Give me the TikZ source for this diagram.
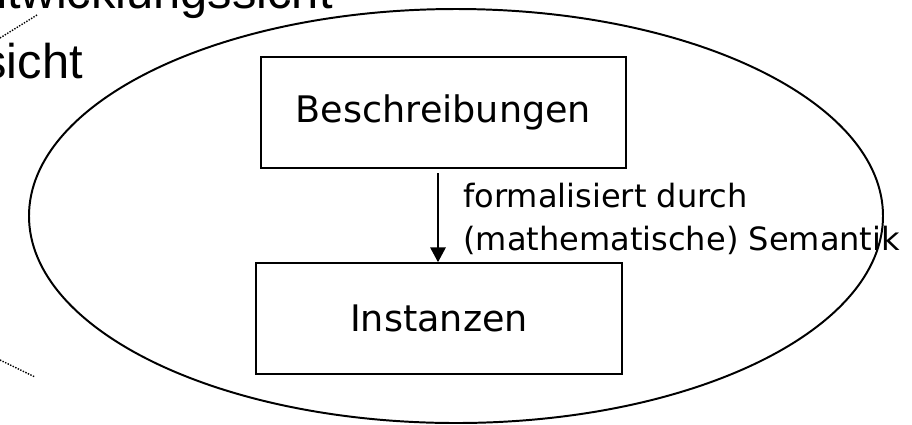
\documentclass[tikz,border=0pt]{standalone}
\usepackage{fontspec}
\setmainfont{DejaVu Sans}
\newfontfamily\arialfont{Liberation Sans}
\usetikzlibrary{arrows.meta}

\tikzset{
	kasten/.style={draw, line width=1.4pt, minimum width=260pt, minimum height=78.7pt, inner sep=0pt, font=\fontsize{26}{30}\selectfont},
	sicht/.style={anchor=base east, inner sep=0pt, font=\arialfont\fontsize{34.7}{40}\selectfont},
	pfeil/.style={line width=1pt, -{Triangle[length=10.5pt, width=11pt]}},
	verweis/.style={line width=1pt, densely dotted}
}

\begin{document}
\begin{tikzpicture}[x=0.025cm, y=-0.025cm]
		\useasboundingbox (0,0) rectangle (912,424);
		\clip (0,0) rectangle (912,424);

		\draw[line width=1.4pt] (456,216) ellipse [x radius=427, y radius=207];

		\node[kasten] (b) at (443.5,112.5) {Beschreibungen};
		\node[kasten, minimum width=260.8pt] (i) at (439,318.5) {Instanzen};

		\coordinate (p) at (438,0);
		\draw[pfeil, shorten <=3pt] (b.south -| p) -- (i.north -| p);
		\node[anchor=west, align=left, inner sep=0pt, font=\fontsize{22.8}{30.5}\selectfont] (s) at (463,218.5) {formalisiert durch\\(mathematische) Semantik};

		\node[sicht] (e) at (333,8) {ntwicklungssicht};
		\node[sicht] (a) at (83,78) {sicht};

		\coordinate (e1) at (0,38);
		\coordinate (e2) at (37,15);
		\coordinate (a1) at (0,360);
		\coordinate (a2) at (35,377);
		\draw[verweis] (e1) -- (e2);
		\draw[verweis] (a1) -- (a2);

	\end{tikzpicture}
\end{document}
